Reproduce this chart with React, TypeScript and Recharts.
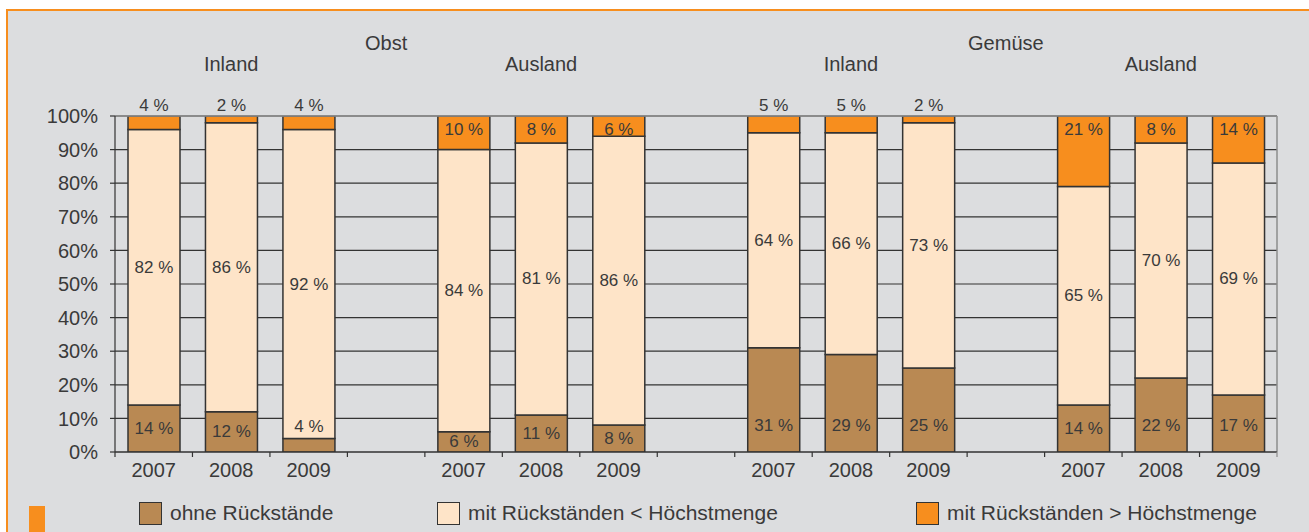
import React from 'react'
import { BarChart, Bar, XAxis, YAxis, CartesianGrid, ReferenceLine, LabelList } from 'recharts'

const years = ['2007', '2008', '2009', '', '2007', '2008', '2009', '', '2007', '2008', '2009', '', '2007', '2008', '2009']
const groupMain = ['', '', '', 'Obst', '', '', '', '', '', '', '', 'Gemüse', '', '', '']
const groupSub = ['', 'Inland', '', '', '', 'Ausland', '', '', '', 'Inland', '', '', '', 'Ausland', '']

const ohneRueckstaende = [14, 12, 4, null, 6, 11, 8, null, 31, 29, 25, null, 14, 22, 17]
const unterHoechstmenge = [82, 86, 92, null, 84, 81, 86, null, 64, 66, 73, null, 65, 70, 69]
const ueberHoechstmenge = [4, 2, 4, null, 10, 8, 6, null, 5, 5, 2, null, 21, 8, 14]

const yTicks = [0, 10, 20, 30, 40, 50, 60, 70, 80, 90, 100]

const data = years.map((year, i) => ({
    key: 'c' + i,
    year,
    main: groupMain[i],
    sub: groupSub[i],
    ohne: ohneRueckstaende[i],
    unter: unterHoechstmenge[i],
    ueber: ueberHoechstmenge[i],
}))

const W = 1309
const H = 532
const PLOT_LEFT = 115
const PLOT_RIGHT = 1277
const BAND = (PLOT_RIGHT - PLOT_LEFT) / years.length

const BROWN = '#b98953'
const LIGHT = '#fee4c8'
const ORANGE = '#f78e1e'
const INK = '#333333'
const TEXT = '#3a3a3a'
const FONT = '"Liberation Sans", Arial, sans-serif'

function BottomTick(props: any) {
    const { x, y, index } = props
    const left = x - BAND / 2
    return (
        <g>
            <line x1={left} x2={left} y1={y} y2={y + 5} stroke={INK} strokeWidth={1.2} />
            {index === years.length - 1 && (
                <line x1={x + BAND / 2} x2={x + BAND / 2} y1={y} y2={y + 5} stroke="#8c8c8c" strokeWidth={1.2} />
            )}
            <text x={x} y={y + 18} textAnchor="middle" dominantBaseline="central" fontSize={20} fill={TEXT} fontFamily={FONT}>
                {years[index]}
            </text>
        </g>
    )
}

function TopTick(props: any) {
    const { x, y, index } = props
    return (
        <g>
            {groupMain[index] && (
                <text x={x} y={y - 73} textAnchor="middle" dominantBaseline="central" fontSize={20} fill={TEXT} fontFamily={FONT}>
                    {groupMain[index]}
                </text>
            )}
            {groupSub[index] && (
                <text x={x} y={y - 52} textAnchor="middle" dominantBaseline="central" fontSize={20} fill={TEXT} fontFamily={FONT}>
                    {groupSub[index]}
                </text>
            )}
        </g>
    )
}

function label(cx: number, cy: number, value: any) {
    return (
        <text x={cx} y={cy} textAnchor="middle" dominantBaseline="central" fontSize={17} fill={TEXT} fontFamily={FONT}>
            {value} %
        </text>
    )
}

const ohneLabel = (p: any) => {
    if (p.value == null) return null
    const x = Number(p.x), y = Number(p.y), w = Number(p.width), h = Number(p.height)
    const cy = p.value < 5 ? y - 12 : Math.max(y + h / 2, y + h - 27)
    return label(x + w / 2, cy, p.value)
}

const unterLabel = (p: any) => {
    if (p.value == null) return null
    const x = Number(p.x), y = Number(p.y), w = Number(p.width), h = Number(p.height)
    return label(x + w / 2, y + h / 2, p.value)
}

const ueberLabel = (p: any) => {
    if (p.value == null) return null
    const x = Number(p.x), y = Number(p.y), w = Number(p.width)
    const cy = p.value <= 5 ? y - 11 : y + 13
    return label(x + w / 2, cy, p.value)
}

const legendItems = [
    { name: 'ohne Rückstände', color: BROWN, left: 139 },
    { name: 'mit Rückständen < Höchstmenge', color: LIGHT, left: 437 },
    { name: 'mit Rückständen > Höchstmenge', color: ORANGE, left: 916 },
]

export default function App() {
    return (
        <div style={{ position: 'absolute', left: 0, top: 0, width: W, height: H, background: '#fff', overflow: 'hidden' }}>
            <div
                style={{
                    position: 'absolute',
                    left: 6,
                    top: 9,
                    right: 0,
                    bottom: 0,
                    background: '#dcdddf',
                    borderLeft: `2px solid ${ORANGE}`,
                    borderTop: `2px solid ${ORANGE}`,
                }}
            />
            <div style={{ position: 'absolute', left: 29, top: 506, width: 16, height: 26, background: ORANGE }} />
            <div style={{ position: 'absolute', left: 0, top: 0 }}>
                <BarChart width={W} height={H} data={data} margin={{ top: 0, right: W - PLOT_RIGHT, bottom: 0, left: 0 }}>
                    <CartesianGrid vertical={false} stroke={INK} strokeWidth={1.2} />
                    <XAxis
                        dataKey="key"
                        height={80}
                        interval={0}
                        tickLine={false}
                        tickSize={0}
                        tickMargin={0}
                        axisLine={{ stroke: INK, strokeWidth: 1.2 }}
                        tick={<BottomTick />}
                    />
                    <XAxis
                        xAxisId="top"
                        dataKey="key"
                        orientation="top"
                        height={116}
                        interval={0}
                        tickLine={false}
                        tickSize={0}
                        tickMargin={0}
                        axisLine={false}
                        tick={<TopTick />}
                    />
                    <YAxis
                        width={PLOT_LEFT}
                        domain={[0, 100]}
                        ticks={yTicks}
                        tickFormatter={(v) => `${v}%`}
                        tickSize={5}
                        tickMargin={12}
                        axisLine={{ stroke: INK, strokeWidth: 1.2 }}
                        tickLine={{ stroke: INK, strokeWidth: 1.2 }}
                        tick={{ fontSize: 20, fill: TEXT, fontFamily: FONT }}
                        allowDataOverflow
                    />
                    <Bar dataKey="ohne" stackId="a" fill={BROWN} stroke={INK} strokeWidth={1.5} barSize={52} isAnimationActive={false}>
                        <LabelList dataKey="ohne" content={ohneLabel} />
                    </Bar>
                    <Bar dataKey="unter" stackId="a" fill={LIGHT} stroke={INK} strokeWidth={1.5} barSize={52} isAnimationActive={false}>
                        <LabelList dataKey="unter" content={unterLabel} />
                    </Bar>
                    <Bar dataKey="ueber" stackId="a" fill={ORANGE} stroke={INK} strokeWidth={1.5} barSize={52} isAnimationActive={false}>
                        <LabelList dataKey="ueber" content={ueberLabel} />
                    </Bar>
                    <ReferenceLine y={100} stroke="#8c8c8c" strokeWidth={1.5} />
                    <ReferenceLine x={'c' + (years.length - 1)} position="end" stroke="#8c8c8c" strokeWidth={1.5} />
                </BarChart>
            </div>
            {legendItems.map((item) => (
                <div
                    key={item.name}
                    style={{
                        position: 'absolute',
                        left: item.left,
                        top: 501,
                        height: 24,
                        display: 'flex',
                        alignItems: 'center',
                        fontFamily: FONT,
                        fontSize: 21,
                        color: TEXT,
                        whiteSpace: 'nowrap',
                    }}
                >
                    <span
                        style={{
                            display: 'inline-block',
                            width: 21,
                            height: 21,
                            background: item.color,
                            border: `1.5px solid ${INK}`,
                            marginRight: 8,
                        }}
                    />
                    {item.name}
                </div>
            ))}
        </div>
    )
}
